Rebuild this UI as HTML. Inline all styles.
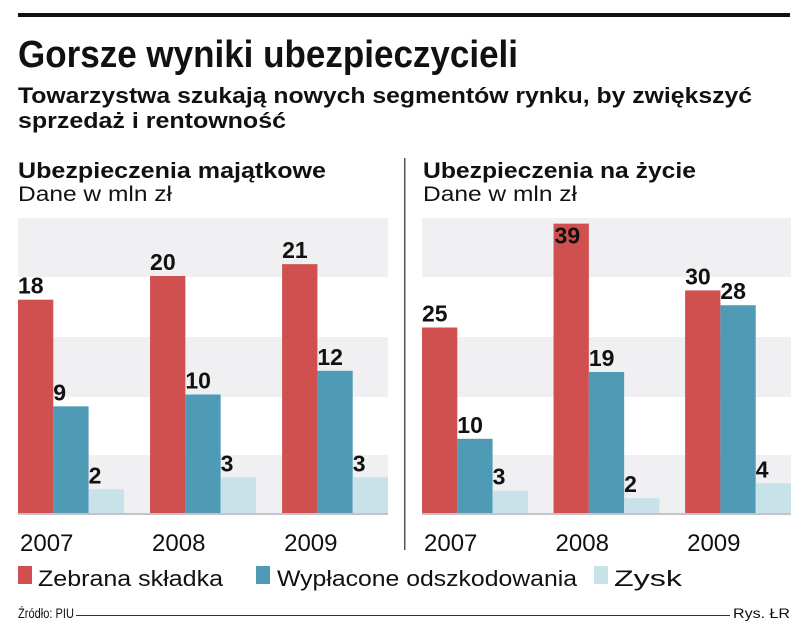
<!DOCTYPE html>
<html><head><meta charset="utf-8"><style>
html,body{margin:0;padding:0;background:#fff}
svg{display:block}
text{font-family:"Liberation Sans Narrow","Liberation Sans",sans-serif;fill:#111}
</style></head><body>
<svg id="c" width="805" height="633" viewBox="0 0 805 633">
<rect x="18" y="13" width="772" height="4" fill="#111"/>
<text x="18" y="67" font-size="38" font-weight="bold" textLength="500" lengthAdjust="spacingAndGlyphs">Gorsze wyniki ubezpieczycieli</text>
<text x="18" y="103" font-size="22" font-weight="bold" textLength="734" lengthAdjust="spacingAndGlyphs">Towarzystwa szukają nowych segmentów rynku, by zwiększyć</text>
<text x="18" y="128" font-size="22" font-weight="bold" textLength="268" lengthAdjust="spacingAndGlyphs">sprzedaż i rentowność</text>
<text x="18" y="178" font-size="22" font-weight="bold" textLength="308" lengthAdjust="spacingAndGlyphs">Ubezpieczenia majątkowe</text>
<text x="18" y="201" font-size="21" textLength="154" lengthAdjust="spacingAndGlyphs">Dane w mln zł</text>
<text x="423" y="178" font-size="22" font-weight="bold" textLength="273" lengthAdjust="spacingAndGlyphs">Ubezpieczenia na życie</text>
<text x="423" y="201" font-size="21" textLength="154" lengthAdjust="spacingAndGlyphs">Dane w mln zł</text>
<rect x="404" y="158" width="1.5" height="392" fill="#555"/>
<g id="bands"></g>
<g id="bars"></g>
<rect x="18" y="566" width="14" height="18" fill="#d05050"/>
<text x="38" y="586" font-size="22" textLength="185" lengthAdjust="spacingAndGlyphs">Zebrana składka</text>
<rect x="256" y="566" width="14" height="18" fill="#4f9ab5"/>
<text x="277" y="586" font-size="22" textLength="300" lengthAdjust="spacingAndGlyphs">Wypłacone odszkodowania</text>
<rect x="594" y="566" width="14" height="18" fill="#c8e2ea"/>
<text x="614" y="586" font-size="22" textLength="68" lengthAdjust="spacingAndGlyphs">Zysk</text>
<text x="18" y="618" font-size="14" textLength="56" lengthAdjust="spacingAndGlyphs">Źródło: PIU</text>
<rect x="76" y="615" width="654" height="1" fill="#333"/>
<text x="733" y="618" font-size="14" textLength="57" lengthAdjust="spacingAndGlyphs">Rys. ŁR</text>
</svg>
<script>
const years = ["2007","2008","2009"];
const propPremium = [18,20,21];
const propClaims = [9,10,12];
const propProfit = [2,3,3];
const lifePremium = [25,39,30];
const lifeClaims = [10,19,28];
const lifeProfit = [3,2,4];

const NS="http://www.w3.org/2000/svg";
const bandsG=document.getElementById('bands');
const barsG=document.getElementById('bars');
const base=513;
const colors=["#d05050","#4f9ab5","#c8e2ea"];
const sNames=["premium","claims","profit"];
function mk(tag,attrs,parent){const e=document.createElementNS(NS,tag);for(const k in attrs)e.setAttribute(k,attrs[k]);parent.appendChild(e);return e;}

function panel(x0,width,perUnit,series,key){
  [[218,277],[337,397],[455,513]].forEach(function(b,i){
    const r=mk('rect',{x:x0,y:b[0],width:width,height:b[1]-b[0],fill:'#f0f0f2'},bandsG);
    
    
  });
  const bl=mk('rect',{x:x0,y:base,width:width,height:2,fill:'#c4c4c8'},bandsG);
  
  
  const groupW=width/3.05;
  const barW=35.3;
  years.forEach(function(yr,gi){
    const gx=x0+gi*(width-3*barW)/2;
    series.forEach(function(vals,si){
      const v=vals[gi];
      const h=v*perUnit;
      const bx=gx+si*barW;
      const r=mk('rect',{x:bx,y:base-h,width:barW,height:h,fill:colors[si]},barsG);
      
      
      const inside = (base-h-4) < 222;
      const t=mk('text',{x:bx+(inside?1:0),y:inside?(base-h+20):(base-h-6),'font-size':23,'font-weight':'bold'},barsG);
      t.textContent=v;
      
      
    });
    const yt=mk('text',{x:gx+2,y:551,'font-size':24},barsG);
    yt.textContent=yr;
    
    
  });
}
panel(18,370,11.85,[propPremium,propClaims,propProfit],'property');
panel(422,369,7.42,[lifePremium,lifeClaims,lifeProfit],'life');
</script>
</body></html>
